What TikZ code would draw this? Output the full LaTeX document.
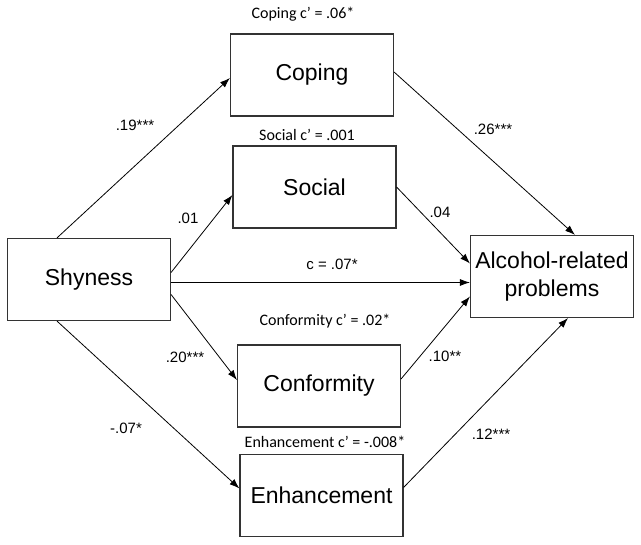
\documentclass[tikz,border=0pt]{standalone}
\usepackage{fontspec}
\setmainfont{Liberation Sans}
\newfontfamily\calibri{Carlito}
\usetikzlibrary{arrows.meta,positioning}

\begin{document}
\begin{tikzpicture}[x=1pt,y=-1pt,
  box/.style={draw=black!80, line width=1.1pt, minimum width=163pt, minimum height=82pt,
              inner sep=2pt, align=center, font=\fontsize{23}{28}\selectfont},
  coef/.style={font=\fontsize{15}{17}\selectfont},
  cprime/.style={font=\calibri\fontsize{16}{18}\selectfont},
  >={Latex[length=10pt,width=7pt]}, line width=0.8pt]
  \useasboundingbox (0,0) rectangle (641,545);

  \node[box] (shy) at (89,279.5) {Shyness};
  \node[box] (cop) at (312,75) {Coping};
  \node[box] (soc) at (314.5,187) {Social};
  \node[box] (conf) at (319,386) {Conformity};
  \node[box] (enh) at (321.5,495.5) {Enhancement};
  \node[box] (alc) at (552,276.5) {Alcohol-related\\problems};

  % paths a
  \draw[->] ([xshift=50pt]shy.north west) -- ([yshift=-3pt]cop.west);
  \draw[->] ([yshift=7pt]shy.east) -- ([yshift=-8pt]soc.west);
  \draw[->] ([yshift=-15pt]shy.east) -- ([yshift=6pt]conf.west);
  \draw[->] ([xshift=50pt]shy.south west) -- ([yshift=7pt]enh.west);

  % paths b
  \draw[->] ([yshift=3pt]cop.east) -- ([xshift=23pt]alc.north);
  \draw[->] (soc.east) -- ([yshift=13pt]alc.west);
  \draw[->] ([yshift=7pt]conf.east) -- ([yshift=-20pt]alc.west);
  \draw[->] ([yshift=8pt]enh.east) -- ([xshift=16pt]alc.south);

  % direct effect
  \coordinate (cst) at ([yshift=-3pt]shy.east);
  \draw[->] (cst) -- (cst -| alc.west);

  \node[cprime] (ccop) at (303,14) {Coping c’ = .06*};
  \node[cprime] (csoc) at (307,135) {Social c’ = .001};
  \node[cprime] (cconf) at (325,321) {Conformity c’ = .02*};
  \node[cprime] (cenh) at (325,442) {Enhancement c’ = -.008*};

  \node[coef] (l19) at (135,125) {.19***};
  \node[coef] (l01) at (188,218) {.01};
  \node[coef] (lc) at (332,264) {c = .07*};
  \node[coef] (l20) at (185,357) {.20***};
  \node[coef] (l07) at (126,428) {-.07*};
  \node[coef] (l26) at (493,129) {.26***};
  \node[coef] (l04) at (440,212) {.04};
  \node[coef] (l10) at (445,356) {.10**};
  \node[coef] (l12) at (491,434) {.12***};
\end{tikzpicture}
\end{document}
